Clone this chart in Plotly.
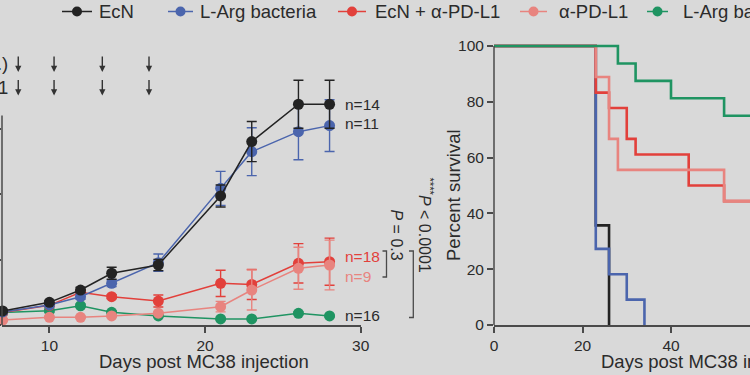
import plotly.graph_objects as go

# ---------------- data ----------------
days = [7, 10, 12, 14, 17, 21, 23, 26, 28]
ecn = [107, 173, 267, 395, 458, 985, 1400, 1685, 1685]
ecn_err = [10, 15, 20, 46, 43, 84, 153, 183, 183]
larg = [100, 153, 216, 318, 476, 1043, 1323, 1476, 1522]
larg_err = [10, 15, 20, 25, 66, 130, 183, 214, 198]
ecn_pd = [95, 150, 250, 216, 183, 318, 310, 471, 483]
ecn_pd_err = [10, 12, 15, 15, 46, 100, 115, 150, 180]
apd = [38, 59, 59, 69, 90, 140, 267, 433, 458]
apd_err = [8, 8, 8, 8, 10, 40, 153, 160, 190]
combo = [95, 109, 147, 97, 69, 46, 46, 89, 69]
combo_err = [8, 10, 12, 10, 8, 6, 6, 10, 8]

n_labels = ["n=14", "n=11", "n=18", "n=9", "n=16"]

# survival (Kaplan-Meier steps)
t_ecn = [0, 23, 26];                 s_ecn = [100, 35.7, 0]
t_larg = [0, 23, 26, 30, 34];        s_larg = [100, 27.3, 18.2, 9.1, 0]
t_ecn_pd = [0, 23, 26, 30, 32, 44, 52, 62]
s_ecn_pd = [100, 83.3, 77.8, 66.7, 61.1, 50, 44.4, 44.4]
t_apd = [0, 23, 26, 28, 52, 62];     s_apd = [100, 88.9, 66.7, 55.6, 44.4, 44.4]
t_combo = [0, 28, 32, 40, 52, 62];   s_combo = [100, 93.75, 87.5, 81.25, 75, 75]

dose_days = [8, 10.3, 13.4, 16.4]

names = ["EcN", "L-Arg bacteria", "EcN + α-PD-L1", "α-PD-L1", "L-Arg bacteria + α-PD-L1"]
colors = ["#232323", "#4b65ad", "#e2403b", "#e8847f", "#1f9462"]

# ---------------- helpers ----------------
W, H = 750, 375
def X(px): return px / W
def Y(py): return 1 - py / H

FONT = "Arial, Liberation Sans, sans-serif"
TXT = "#2b2b2b"
AX = "#4a4a4a"
BG = "#d9d9d9"

fig = go.Figure()

# ---------------- left panel: tumour growth ----------------
order = [4, 2, 3, 1, 0]
series = [ecn, larg, ecn_pd, apd, combo]
errs = [ecn_err, larg_err, ecn_pd_err, apd_err, combo_err]
for i in order:
    fig.add_trace(go.Scatter(
        x=days, y=series[i], mode="lines+markers", name=names[i],
        line=dict(color=colors[i], width=1.5),
        marker=dict(color=colors[i], size=11),
        error_y=dict(type="data", array=errs[i], color=colors[i], thickness=1.4, width=5),
        cliponaxis=False, showlegend=False, xaxis="x", yaxis="y"))

# ---------------- right panel: survival ----------------
surv = [(t_ecn, s_ecn), (t_larg, s_larg), (t_ecn_pd, s_ecn_pd), (t_apd, s_apd), (t_combo, s_combo)]
for i, (t, s) in enumerate(surv):
    fig.add_trace(go.Scatter(
        x=t, y=s, mode="lines", line=dict(color=colors[i], width=2.6, shape="hv"),
        showlegend=False, xaxis="x2", yaxis="y2"))

px_per_day_l = 15.57
x_left0 = 10 - (49.4 - 2) / px_per_day_l
units_per_px = 500 / 65.5
y_top_l = 2000
left_top_px = 325 - y_top_l / units_per_px

px_per_day_r = 4.425
x_right1 = (750 - 494) / px_per_day_r
y_top_r = 105
right_top_px = 325 - y_top_r * 2.79

fig.update_layout(
    width=W, height=H, margin=dict(l=0, r=0, t=0, b=0),
    paper_bgcolor=BG, plot_bgcolor=BG,
    font=dict(family=FONT, color=TXT, size=15.5),
    xaxis=dict(domain=[X(2), X(360.7)], range=[x_left0, 30], tickvals=[10, 20, 30],
               showline=True, linecolor=AX, linewidth=1.5, ticks="outside", ticklen=6,
               tickwidth=1.5, tickcolor=AX, showgrid=False, zeroline=False,
               tickfont=dict(size=15.5, color=TXT), anchor="y", automargin=False),
    yaxis=dict(domain=[Y(325), Y(left_top_px)], range=[0, y_top_l],
               tickvals=[0, 500, 1000, 1500], showticklabels=False,
               showline=False, ticks="outside", ticklen=5, tickwidth=1.5, tickcolor=AX,
               showgrid=False, zeroline=False, anchor="x", automargin=False),
    xaxis2=dict(domain=[X(494), 1], range=[0, x_right1], tickvals=[0, 20, 40, 60],
                showline=True, linecolor=AX, linewidth=1.5, ticks="outside", ticklen=6,
                tickwidth=1.5, tickcolor=AX, showgrid=False, zeroline=False,
                tickfont=dict(size=15.5, color=TXT), anchor="y2", automargin=False),
    yaxis2=dict(domain=[Y(325), Y(right_top_px)], range=[0, y_top_r],
                tickvals=[0, 20, 40, 60, 80, 100], showline=False, ticks="outside",
                ticklen=6, tickwidth=1.5, tickcolor=AX, showgrid=False, zeroline=False,
                tickfont=dict(size=15.5, color=TXT), anchor="x2", automargin=False),
)

shapes = []
# y axis lines
shapes.append(dict(type="line", xref="x domain", yref="y", x0=0, x1=0, y0=0, y1=1600,
                   line=dict(color=AX, width=1.5)))
shapes.append(dict(type="line", xref="x2 domain", yref="y2", x0=0, x1=0, y0=0, y1=100,
                   line=dict(color=AX, width=1.5)))
# significance brackets
def bracket(xv, xt, y0, y1):
    return dict(type="path", xref="paper", yref="paper",
                path=f"M {X(xt)},{Y(y0)} L {X(xv)},{Y(y0)} L {X(xv)},{Y(y1)} L {X(xt)},{Y(y1)}",
                line=dict(color=AX, width=1.3))
shapes.append(bracket(386.5, 382.5, 251, 277))
shapes.append(bracket(413.3, 409, 251, 317.5))

annotations = []
# legend (manual)
leg = [(62, 92, 97), (168, 193, 198), (338, 366, 373), (520, 547, 557), (647, 668, 681)]
for i, (a, b, tx) in enumerate(leg):
    shapes.append(dict(type="line", xref="paper", yref="paper", x0=X(a), x1=X(b),
                       y0=Y(11.5), y1=Y(11.5), line=dict(color=colors[i], width=1.5)))
    shapes.append(dict(type="circle", xref="paper", yref="paper", xsizemode="pixel",
                       ysizemode="pixel", xanchor=X((a + b) / 2), yanchor=Y(11.5),
                       x0=-5, x1=5, y0=-5, y1=5, fillcolor=colors[i], line=dict(width=0)))
    annotations.append(dict(text=names[i], xref="paper", yref="paper", x=X(tx), y=Y(11.5),
                            xanchor="left", yanchor="middle", showarrow=False,
                            font=dict(size=18.5, color=TXT)))

# treatment arrows
annotations.append(dict(text="L-Arg bacteria (i.t.)", xref="paper", yref="paper", x=X(9.5), y=Y(63),
                        xanchor="right", yanchor="middle", showarrow=False, font=dict(size=18.5)))
annotations.append(dict(text="α-PD-L1", xref="paper", yref="paper", x=X(9.5), y=Y(87),
                        xanchor="right", yanchor="middle", showarrow=False, font=dict(size=18.5)))
for d in dose_days:
    for ytip in (72, 95.5):
        annotations.append(dict(text="", xref="x", yref="paper", x=d, y=Y(ytip),
                                ax=0, ay=-17, showarrow=True, arrowhead=2, arrowsize=0.9,
                                arrowwidth=1.4, arrowcolor="#333333", standoff=0))

# n labels
n_pos = [(104, TXT), (123.5, TXT), (256, colors[2]), (276.5, colors[3]), (315, TXT)]
for lab, (py, c) in zip(n_labels, n_pos):
    annotations.append(dict(text=lab, xref="paper", yref="paper", x=X(343), y=Y(py),
                            xanchor="left", yanchor="middle", showarrow=False,
                            font=dict(size=15.5, color=c)))

# p values
annotations.append(dict(text="<i>P</i> = 0.3", xref="paper", yref="paper", x=X(396), y=Y(262),
                        textangle=90, showarrow=False, font=dict(size=16, color=TXT)))
annotations.append(dict(text="<sup>****</sup><i>P</i> < 0.0001", xref="paper", yref="paper",
                        x=X(426), y=Y(275), textangle=90, showarrow=False,
                        font=dict(size=16, color=TXT)))

# axis titles
annotations.append(dict(text="Days post MC38 injection", xref="paper", yref="paper",
                        x=X(203.5), y=Y(361), xanchor="center", yanchor="middle",
                        showarrow=False, font=dict(size=18.5, color=TXT)))
annotations.append(dict(text="Days post MC38 injection", xref="paper", yref="paper",
                        x=X(599), y=Y(361), xanchor="left", yanchor="middle",
                        showarrow=False, font=dict(size=18.5, color=TXT)))
annotations.append(dict(text="Percent survival", xref="paper", yref="paper",
                        x=X(453.5), y=Y(195.5), textangle=-90, showarrow=False,
                        font=dict(size=18.5, color=TXT)))

fig.update_layout(shapes=shapes, annotations=annotations)
fig.write_html("out.html", config={"displayModeBar": False},
               post_script="document.body.style.margin='0px';document.body.style.overflow='hidden';")
